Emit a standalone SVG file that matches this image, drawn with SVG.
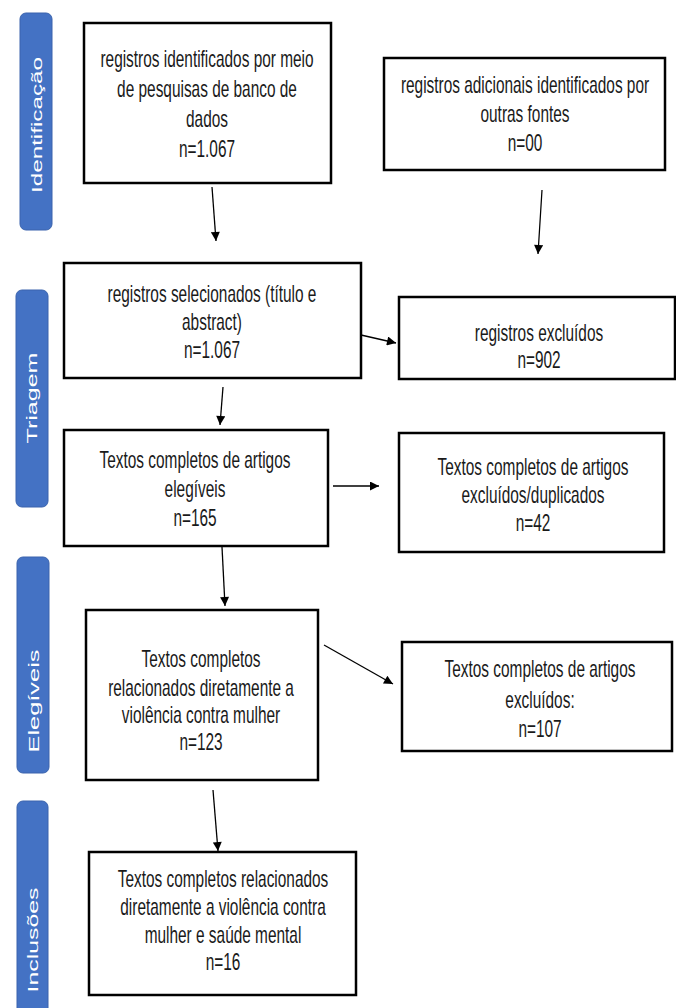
<svg xmlns="http://www.w3.org/2000/svg" width="676" height="1008" viewBox="0 0 676 1008">
<style>
.box{fill:#fff;stroke:#000;stroke-width:2.5}
.bar{fill:#4472c4;stroke:#3a63ad;stroke-width:1}
.t{font-family:"Liberation Sans",Arial,sans-serif;font-size:23px;fill:#1a1a1a;text-anchor:middle}
.s{font-family:"Liberation Sans",Arial,sans-serif;font-size:15px;fill:#fff;text-anchor:middle}
.c{stroke:#000;stroke-width:1.3;fill:none;marker-end:url(#ah)}
</style>
<defs>
<marker id="ah" viewBox="0 0 10 10" refX="10" refY="5" markerWidth="11" markerHeight="9" markerUnits="userSpaceOnUse" orient="auto">
<path d="M0,0 L10,5 L0,10 Z" fill="#000"/>
</marker>
</defs>
<rect width="676" height="1008" fill="#fff"/>

<g id="stage-identificacao">
<rect class="bar" x="20" y="13" width="32" height="217" rx="6"/>
<text class="s" transform="translate(42 125) rotate(-90)" textLength="136" lengthAdjust="spacingAndGlyphs">Identificação</text>
</g>
<g id="stage-triagem">
<rect class="bar" x="16" y="290" width="32" height="217" rx="6"/>
<text class="s" transform="translate(37 398) rotate(-90)" textLength="91" lengthAdjust="spacingAndGlyphs">Triagem</text>
</g>
<g id="stage-elegiveis">
<rect class="bar" x="17" y="557" width="32" height="216" rx="6"/>
<text class="s" transform="translate(38.5 701) rotate(-90)" textLength="103" lengthAdjust="spacingAndGlyphs">Elegíveis</text>
</g>
<g id="stage-inclusoes">
<rect class="bar" x="17" y="801" width="31" height="215" rx="6"/>
<text class="s" transform="translate(38 940) rotate(-90)" textLength="105" lengthAdjust="spacingAndGlyphs">Inclusões</text>
</g>

<g id="n1">
<rect class="box" x="84" y="23" width="247" height="160"/>
<text class="t" transform="translate(207 0) scale(0.67 1)"><tspan x="0" y="67">registros identificados por meio</tspan><tspan x="0" y="97">de pesquisas de banco de</tspan><tspan x="0" y="127">dados</tspan><tspan x="0" y="157">n=1.067</tspan></text>
</g>
<g id="n2">
<rect class="box" x="384" y="58" width="281" height="112"/>
<text class="t" transform="translate(525 0) scale(0.67 1)"><tspan x="0" y="93">registros adicionais identificados por</tspan><tspan x="0" y="122">outras fontes</tspan><tspan x="0" y="151">n=00</tspan></text>
</g>
<g id="n3">
<rect class="box" x="64" y="263" width="297" height="115"/>
<text class="t" transform="translate(212 0) scale(0.67 1)"><tspan x="0" y="302">registros selecionados (título e</tspan><tspan x="0" y="330">abstract)</tspan><tspan x="0" y="358">n=1.067</tspan></text>
</g>
<g id="n4">
<rect class="box" x="399" y="297" width="276" height="82"/>
<text class="t" transform="translate(539 0) scale(0.67 1)"><tspan x="0" y="341">registros excluídos</tspan><tspan x="0" y="368">n=902</tspan></text>
</g>
<g id="n5">
<rect class="box" x="64" y="430" width="264" height="116"/>
<text class="t" transform="translate(195 0) scale(0.67 1)"><tspan x="0" y="468">Textos completos de artigos</tspan><tspan x="0" y="497">elegíveis</tspan><tspan x="0" y="526">n=165</tspan></text>
</g>
<g id="n6">
<rect class="box" x="399" y="433" width="265" height="119"/>
<text class="t" transform="translate(533 0) scale(0.67 1)"><tspan x="0" y="475">Textos completos de artigos</tspan><tspan x="0" y="503">excluídos/duplicados</tspan><tspan x="0" y="531">n=42</tspan></text>
</g>
<g id="n7">
<rect class="box" x="86" y="610" width="232" height="170"/>
<text class="t" transform="translate(201 0) scale(0.67 1)"><tspan x="0" y="667">Textos completos</tspan><tspan x="0" y="696">relacionados diretamente a</tspan><tspan x="0" y="723">violência contra mulher</tspan><tspan x="0" y="750">n=123</tspan></text>
</g>
<g id="n8">
<rect class="box" x="402" y="642" width="270" height="109"/>
<text class="t" transform="translate(540 0) scale(0.67 1)"><tspan x="0" y="677">Textos completos de artigos</tspan><tspan x="0" y="708">excluídos:</tspan><tspan x="0" y="737">n=107</tspan></text>
</g>
<g id="n9">
<rect class="box" x="89" y="852" width="267" height="143"/>
<text class="t" transform="translate(223 0) scale(0.67 1)"><tspan x="0" y="887">Textos completos relacionados</tspan><tspan x="0" y="915">diretamente a violência contra</tspan><tspan x="0" y="943">mulher e saúde mental</tspan><tspan x="0" y="970">n=16</tspan></text>
</g>

<g id="connectors">
<line class="c" x1="212" y1="187" x2="216" y2="241"/>
<line class="c" x1="542" y1="190" x2="538" y2="254"/>
<line class="c" x1="361" y1="335" x2="396" y2="343"/>
<line class="c" x1="223" y1="387" x2="220" y2="425"/>
<line class="c" x1="333" y1="486" x2="379" y2="486"/>
<line class="c" x1="222" y1="547" x2="225" y2="606"/>
<line class="c" x1="324" y1="645" x2="393" y2="684"/>
<line class="c" x1="213" y1="790" x2="218" y2="851"/>
</g>
</svg>
